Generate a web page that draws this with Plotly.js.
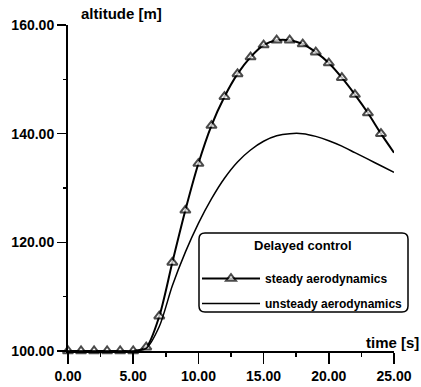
<!DOCTYPE html>
<html>
<head>
<meta charset="utf-8">
<script src="https://cdn.plot.ly/plotly-3.0.1.min.js"></script>
<style>
  html, body { margin: 0; padding: 0; background: #fff; }
  #chart { width: 421px; height: 387px; }
</style>
</head>
<body>
<div id="chart"></div>
<script>
// Flight time [s]
const time = [0, 1, 2, 3, 4, 5, 6, 7, 8, 9, 10, 11, 12, 13, 14, 15, 16, 17, 18, 19, 20, 21, 22, 23, 24, 25];

// Altitude [m] with steady aerodynamic model
const steadyAltitude = [100, 100, 100, 100, 100, 100, 100.7, 106.4, 116.3, 125.9, 134.5, 141.5, 146.8, 151.0, 154.1, 156.3, 157.2, 157.2, 156.5, 155.0, 153.0, 150.3, 147.2, 143.8, 140.0, 136.5];

// Altitude [m] with unsteady aerodynamic model
const unsteadyAltitude = [100, 100, 100, 100, 100, 100, 100.5, 104.5, 112.0, 118.2, 123.5, 128.0, 131.8, 134.8, 137.0, 138.6, 139.6, 140.0, 140.0, 139.5, 138.7, 137.7, 136.5, 135.3, 134.1, 132.9];

const legendTitle = 'Delayed control';
const seriesNames = ['steady aerodynamics', 'unsteady aerodynamics'];
const xTitle = 'time [s]';
const yTitle = 'altitude [m]';

const FONT = 'Liberation Sans, Arial, sans-serif';

// triangles on every sample except the last one
const markerSizes = time.map((t, i) => (i === time.length - 1 ? 0 : 9));

const traces = [
  {
    x: time,
    y: steadyAltitude,
    name: seriesNames[0],
    legendgroup: 'a',
    mode: 'lines+markers',
    line: { color: '#000', width: 2, shape: 'spline', smoothing: 0.8 },
    marker: {
      symbol: 'triangle-up',
      size: markerSizes,
      color: '#fff',
      line: { color: '#000', width: 2 }
    },
    cliponaxis: false
  },
  {
    x: time,
    y: unsteadyAltitude,
    name: seriesNames[1],
    legendgroup: 'b',
    mode: 'lines',
    line: { color: '#000', width: 1.5, shape: 'spline', smoothing: 0.8 },
    cliponaxis: false
  }
];

const L = 68, R = 27, T = 25, B = 36;
const W = 421, H = 387;
const pw = W - L - R, ph = H - T - B;
const px = v => (v - L) / pw;        // pixel column -> paper x
const py = v => (H - B - v) / ph;    // pixel row -> paper y

// rounded frame drawn behind the legend
function roundedBox(x0, y0, x1, y1, r) {
  const a = px(x0), b = px(x1), c = py(y0), d = py(y1);
  const rx = r / pw, ry = r / ph;
  return `M ${a + rx} ${c} L ${b - rx} ${c} Q ${b} ${c} ${b} ${c - ry} ` +
         `L ${b} ${d + ry} Q ${b} ${d} ${b - rx} ${d} L ${a + rx} ${d} ` +
         `Q ${a} ${d} ${a} ${d + ry} L ${a} ${c - ry} Q ${a} ${c} ${a + rx} ${c} Z`;
}

const axisCommon = {
  showline: true,
  linecolor: '#000',
  linewidth: 2,
  showgrid: false,
  zeroline: false,
  ticks: 'outside',
  tickcolor: '#000',
  tickwidth: 1.5,
  tickformat: '.2f',
  tickfont: { family: FONT, size: 14, color: '#000', weight: 'bold' },
  fixedrange: true
};

const layout = {
  width: W,
  height: H,
  margin: { l: L, r: R, t: T, b: B },
  paper_bgcolor: '#fff',
  plot_bgcolor: '#fff',
  font: { family: FONT, color: '#000' },
  xaxis: Object.assign({}, axisCommon, {
    range: [0, 25],
    dtick: 5,
    tick0: 0,
    ticklen: 11,
    minor: { dtick: 2.5, ticks: 'outside', ticklen: 4, tickwidth: 1.5, tickcolor: '#000' }
  }),
  yaxis: Object.assign({}, axisCommon, {
    range: [100, 160],
    dtick: 20,
    tick0: 100,
    ticklen: 9,
    minor: { dtick: 10, ticks: 'outside', ticklen: 3, tickwidth: 1.5, tickcolor: '#000' }
  }),
  showlegend: true,
  legend: {
    x: px(197),
    y: py(264),
    xanchor: 'left',
    yanchor: 'top',
    bgcolor: 'rgba(0,0,0,0)',
    borderwidth: 0,
    traceorder: 'grouped',
    tracegroupgap: 6,
    itemwidth: 58,
    font: { family: FONT, size: 12, color: '#000', weight: 'bold' }
  },
  shapes: [
    {
      type: 'path',
      xref: 'paper',
      yref: 'paper',
      path: roundedBox(199, 233, 408, 312, 6),
      line: { color: '#000', width: 1.5 },
      fillcolor: '#fff',
      layer: 'below'
    }
  ],
  annotations: [
    {
      text: legendTitle,
      xref: 'paper', yref: 'paper',
      x: px(303), y: py(245),
      xanchor: 'center', yanchor: 'middle',
      showarrow: false,
      font: { family: FONT, size: 13, color: '#000', weight: 'bold' }
    },
    {
      text: yTitle,
      xref: 'paper', yref: 'paper',
      x: px(79), y: py(24),
      xanchor: 'left', yanchor: 'bottom',
      showarrow: false,
      font: { family: FONT, size: 15, color: '#000', weight: 'bold' }
    },
    {
      text: xTitle,
      xref: 'paper', yref: 'paper',
      x: px(421), y: py(353),
      xanchor: 'right', yanchor: 'bottom',
      showarrow: false,
      font: { family: FONT, size: 15, color: '#000', weight: 'bold' }
    }
  ]
};

Plotly.newPlot('chart', traces, layout, { displayModeBar: false, staticPlot: true });
</script>
</body>
</html>
